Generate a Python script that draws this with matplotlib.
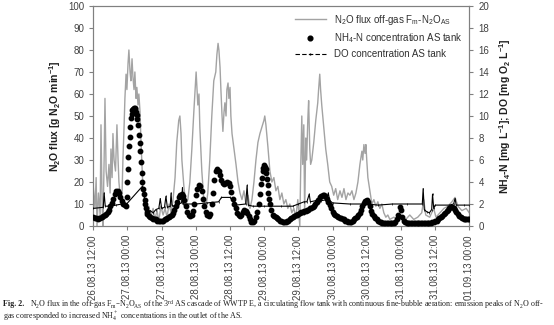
import matplotlib
matplotlib.use("Agg")
import matplotlib.pyplot as plt
from matplotlib.lines import Line2D

# ---------------- data (hours since 26.08.13 12:00) ----------------
flux_t = [0.0, 0.6, 1.0, 1.3, 1.8, 2.4, 2.7, 3.1, 3.4, 3.8, 4.1, 4.5, 5.0, 5.5, 5.9, 6.2, 6.6, 6.9, 7.3, 7.8,
          8.3, 8.7, 9.0, 9.5, 10.1, 10.4, 10.8, 11.1, 11.5, 11.8, 12.2, 12.5, 12.9, 13.2, 13.6, 13.9, 14.3,
          14.6, 15.0, 15.3, 15.7, 16.0, 16.4, 16.7, 17.1, 17.4, 18.1, 18.8, 19.5, 20.2, 21.0, 21.6, 22.4,
          23.0, 23.7, 24.5, 25.2, 25.9, 26.6, 27.3, 28.0, 28.7, 29.3, 30.0, 30.4, 30.8, 31.1, 31.8, 32.5,
          33.2, 33.9, 34.6, 35.3, 36.1, 36.4, 36.7, 37.1, 37.4, 38.1, 38.8, 39.5, 40.2, 40.9, 41.6, 42.3,
          43.0, 43.4, 43.8, 44.1, 44.5, 44.8, 45.2, 45.5, 45.9, 46.2, 46.6, 46.9, 47.3, 47.6, 48.0, 48.3,
          48.7, 49.4, 50.1, 50.8, 51.5, 52.2, 52.9, 53.6, 54.3, 55.0, 55.7, 56.4, 57.1, 57.8, 58.5, 59.2,
          59.9, 60.2, 60.6, 61.3, 62.0, 62.7, 63.4, 64.1, 64.8, 65.5, 66.2, 66.9, 67.6, 68.3, 69.0, 69.7,
          70.4, 71.1, 71.8, 72.5, 72.8, 73.2, 73.5, 73.9, 74.2, 74.6, 74.9, 75.3, 75.6, 76.0, 76.3, 76.7,
          77.4, 78.1, 78.8, 79.1, 79.5, 79.8, 80.2, 80.9, 81.6, 82.3, 83.0, 83.7, 84.4, 85.1, 85.8, 86.6,
          87.3, 88.0, 88.7, 89.4, 90.1, 90.8, 91.5, 92.2, 92.9, 93.6, 94.3, 94.6, 95.0, 95.4, 95.7, 96.0,
          96.4, 97.1, 97.8, 98.5, 99.2, 99.9, 100.6, 101.3, 102.0, 102.7, 103.4, 104.1, 105.5, 106.9,
          108.3, 109.7, 111.1, 112.5, 113.9, 115.3, 116.0, 116.7, 118.1, 119.5, 120.3, 121.7, 123.1,
          124.5, 125.9, 127.0, 128.0, 129.4, 130.9, 132.0]
flux_v = [18, 8, 22, 0, 15, 5, 46, 10, 0, 30, 58, 25, 18, 28, 15, 35, 22, 42, 30, 25,
          46, 30, 20, 13, 15, 30, 45, 58, 69, 62, 74, 80, 70, 66, 76, 68, 62,
          70, 58, 63, 55, 60, 52, 40, 28, 18, 10, 6, 9, 4, 8, 3, 7,
          2, 9, 5, 8, 4, 10, 6, 12, 22, 38, 48, 50, 42, 30, 18, 10,
          12, 20, 35, 52, 70, 62, 55, 60, 45, 25, 12, 8, 15, 30, 50, 66,
          70, 78, 83, 80, 72, 62, 50, 43, 52, 56, 50, 62, 65, 58, 63, 50,
          42, 35, 28, 20, 15, 12, 16, 10, 14, 8, 12, 20, 30, 38, 42, 45,
          48, 50, 46, 36, 25, 20, 22, 16, 18, 12, 15, 10, 12, 8, 10, 6,
          8, 4, 12, 0, 25, 50, 28, 46, 5, 40, 30, 48, 57, 35, 28, 30,
          38, 48, 56, 62, 69, 62, 55, 45, 35, 28, 20, 18, 14, 17, 12, 16,
          13, 17, 12, 15, 14, 16, 12, 15, 20, 28, 34, 30, 37, 33, 37, 30,
          22, 16, 10, 12, 9, 11, 8, 10, 6, 4, 5, 3, 4, 3,
          4, 3, 5, 3, 4, 6, 12, 5, 4, 8, 4, 6, 8,
          9, 11, 13, 9, 7, 8, 6]

nh4_t = [0, 0.5, 1, 1.5, 2, 2.5, 3, 3.5, 4, 4.5, 5, 5.5, 6, 6.5, 7, 7.5, 8, 8.5, 9, 9.5, 10, 10.5, 11, 11.5,
         11.75, 12.0, 12.1, 12.25, 12.5, 12.75, 13.0, 13.25, 13.5, 13.75, 14.0, 14.25, 14.5, 14.75, 15.0,
         15.25, 15.5, 15.75, 16.0, 16.25, 16.5, 16.75, 17.0, 17.25, 17.5, 17.75, 18.0, 18.25, 18.5, 18.75,
         19.0, 19.5,
         20, 20.5, 21, 21.5, 22, 22.5, 23, 23.5, 24, 24.5, 25, 25.5, 26, 26.5, 27, 27.5, 28, 28.5, 29, 29.5,
         30, 30.5, 31, 31.5, 32, 32.5, 33, 33.5, 34, 34.5, 35, 35.5, 36, 36.5, 37, 37.5, 38, 38.5, 39, 39.5,
         40, 40.5, 41, 41.5, 42, 42.5, 43, 43.5, 44, 44.5, 45, 45.5, 46, 46.5, 47, 47.5, 48, 48.5, 49, 49.5,
         50, 50.5, 51, 51.5, 52, 52.5, 53, 53.5, 54, 54.5, 55, 55.5, 56, 56.5, 57, 57.5, 58, 58.5, 59,
         59.25, 59.5, 59.75, 60, 60.25, 60.5, 60.75, 61, 61.25, 61.5, 61.75, 62, 62.5, 63, 63.5, 64, 64.5,
         65, 65.5, 66, 66.5, 67, 67.5, 68, 68.5, 69, 69.5, 70, 70.5, 71, 71.5, 72, 72.5, 73, 73.5, 74, 74.5,
         75, 75.5, 76, 76.5, 77, 77.5, 78, 78.5, 79, 79.5, 80, 80.5, 81, 81.5, 82, 82.5, 83, 83.5, 84, 84.5,
         85, 85.5, 86, 86.5, 87, 87.5, 88, 88.5, 89, 89.5, 90, 90.5, 91, 91.5, 92, 92.5, 93, 93.5, 94, 94.5,
         95, 95.5, 96, 96.5, 97, 97.5, 98, 98.5, 99, 99.5, 100, 100.5, 101, 101.5, 102, 102.5, 103, 103.5,
         104, 104.5, 105, 105.5, 106, 106.5, 107, 107.5, 108, 108.5, 109, 109.5, 110, 110.5, 111, 111.5,
         112, 112.5, 113, 113.5, 114, 114.5, 115, 115.5, 116, 116.5, 117, 117.5, 118, 118.5, 119, 119.5,
         120, 120.5, 121, 121.5, 122, 122.5, 123, 123.5, 124, 124.5, 125, 125.5, 126, 126.5, 127, 127.5,
         128, 128.5, 129, 129.5, 130, 130.5, 131, 131.5, 132]
nh4_v = [0.8, 0.7, 0.7, 0.6, 0.7, 0.7, 0.8, 0.9, 1.0, 1.1, 1.3, 1.5, 1.8, 2.1, 2.5, 2.9, 3.2, 3.2, 3.0, 2.6,
         2.3, 2.0, 1.9, 1.8,
         2.6, 4.0, 5.2, 6.3, 7.3, 8.1, 9.0, 9.8, 10.2, 10.5, 10.6, 10.7, 10.7, 10.6, 10.4,
         10.1, 9.7, 9.2, 8.3, 7.5, 6.8, 5.8, 4.8, 4.0, 3.4, 2.9, 2.4, 2.0, 1.6, 1.3,
         1.1, 0.9,
         0.8, 0.7, 0.6, 0.6, 0.6, 0.5, 0.5, 0.5, 0.5, 0.5, 0.6, 0.6, 0.7, 0.8, 0.9, 1.0, 1.2, 1.5, 1.8, 2.2,
         2.6, 2.8, 2.9, 2.7, 2.4, 1.8, 1.3, 1.0, 0.9, 1.0, 1.4, 2.0, 2.8, 3.4, 3.7, 3.6, 3.2, 2.5, 1.8, 1.3,
         1.0, 0.9, 1.1, 2.0, 3.0, 4.2, 5.0, 5.2, 5.0, 4.6, 4.2, 3.9, 3.8, 3.9, 4.0, 3.9, 3.6, 3.1, 2.5, 2.0,
         1.6, 1.2, 1.0, 0.9, 1.0, 1.3, 1.5, 1.4, 1.2, 0.9, 0.6, 0.4, 0.4, 0.5, 0.8, 1.3, 2.0, 2.9, 3.8,
         4.4, 5.0, 5.3, 5.5, 5.4, 5.2, 4.8, 4.3, 3.7, 3.0, 2.5, 2.0, 1.5, 1.0, 0.9, 0.8, 0.7,
         0.6, 0.5, 0.5, 0.4, 0.4, 0.4, 0.5, 0.5, 0.6, 0.7, 0.8, 0.9, 1.0, 1.0, 1.1, 1.2, 1.3, 1.3, 1.4, 1.4,
         1.5, 1.5, 1.6, 1.6, 1.7, 1.8, 2.0, 2.2, 2.4, 2.6, 2.7, 2.8, 2.8, 2.7, 2.5, 2.2, 1.9, 1.6, 1.3, 1.1,
         1.0, 0.9, 0.8, 0.7, 0.7, 0.6, 0.6, 0.5, 0.5, 0.4, 0.4, 0.4, 0.5, 0.6, 0.7, 0.8, 1.0, 1.2, 1.5, 1.8,
         2.1, 2.3, 2.4, 2.2, 1.8, 1.4, 1.1, 0.9, 0.7, 0.6, 0.5, 0.4, 0.4, 0.3, 0.3, 0.3, 0.3, 0.3,
         0.3, 0.3, 0.3, 0.3, 0.4, 0.6, 1.0, 1.7, 1.5, 0.8, 0.5, 0.4, 0.3, 0.3, 0.3, 0.3,
         0.3, 0.3, 0.3, 0.3, 0.3, 0.3, 0.3, 0.3, 0.3, 0.3, 0.3, 0.3, 0.3, 0.3, 0.4, 0.4,
         0.5, 0.5, 0.6, 0.7, 0.8, 0.9, 1.1, 1.2, 1.4, 1.5, 1.6, 1.7, 1.7, 1.6, 1.5, 1.3,
         1.1, 0.9, 0.8, 0.7, 0.6, 0.6, 0.6, 0.6, 0.6]

do_t = [0, 3.5, 3.8, 4.2, 6, 8, 10, 11, 17.2, 17.8, 18.3, 19, 20, 21, 22, 23, 23.5, 24, 25, 25.5, 26, 27,
        27.3, 27.6, 28, 29, 30, 31, 31.3, 31.6, 32, 36, 40, 44, 45, 48, 49, 50, 53.5, 54, 54.4, 56, 60,
        66, 70, 72, 74, 75, 75.8, 76.2, 78, 80, 82, 82.5, 83, 84, 90, 95.5, 95.8, 96.2, 100, 105, 110,
        115.5, 115.8, 116.2, 117, 118, 118.8, 119.1, 119.5, 120, 125, 126.5, 127, 127.4, 130, 132]
do_v = [1.6, 1.7, 3.0, 1.8, 1.8, 1.9, 2.0, 1.8, 3.6, 3.3, 1.5, 1.3, 1.4, 1.2, 1.5, 1.6, 2.5, 1.6, 1.7, 2.7,
        1.7, 1.8, 3.0, 1.9, 1.8, 1.9, 2.0, 2.1, 3.5, 2.0, 2.0, 2.0, 2.1, 2.2, 2.6, 2.6, 2.3, 1.9, 2.0,
        3.7, 1.9, 1.8, 1.8, 1.8, 1.8, 2.0, 2.2, 2.2, 2.9, 2.2, 2.3, 2.3, 2.4, 3.0, 2.3, 2.1, 2.0, 2.0,
        2.5, 2.0, 1.9, 2.0, 2.0, 2.0, 3.4, 1.5, 1.3, 1.2, 1.5, 2.9, 1.6, 1.9, 1.9, 2.0, 2.5, 1.9, 1.9,
        1.9]

tick_hours = [0, 12, 24, 36, 48, 60, 72, 84, 96, 108, 120, 132]
tick_labels = ["26.08.13 12:00", "27.08.13 00:00", "27.08.13 12:00", "28.08.13 00:00",
               "28.08.13 12:00", "29.08.13 00:00", "29.08.13 12:00", "30.08.13 00:00",
               "30.08.13 12:00", "31.08.13 00:00", "31.08.13 12:00", "01.09.13 00:00"]

# ---------------- figure ----------------
plt.rcParams['font.family'] = ['Liberation Sans', 'DejaVu Sans']
plt.rcParams['mathtext.default'] = 'regular'
TXT = '#404040'

fig = plt.figure(figsize=(5.54, 3.25), dpi=100)
ax = fig.add_axes([0.1684, 0.3046, 0.6787, 0.677])
ax2 = ax.twinx()

ax.plot(flux_t, flux_v, color='#a3a3a3', lw=1.0, zorder=2)
ax2.plot(do_t, do_v, color='black', lw=0.8, marker='|', ms=2, mew=0.5, zorder=3)
ax2.plot(nh4_t, nh4_v, linestyle='none', marker='o', ms=3.2, color='black', zorder=4)

ax.set_xlim(0, 132)
ax.set_ylim(0, 100)
ax2.set_ylim(0, 20)
ax.set_yticks(range(0, 101, 10))
ax2.set_yticks(range(0, 21, 2))
ax.set_xticks(tick_hours)
ax.set_xticklabels(tick_labels, rotation=90)

for a in (ax, ax2):
    for s in a.spines.values():
        s.set_color('#808080')
        s.set_linewidth(0.8)
    a.tick_params(colors='#808080', labelcolor=TXT, labelsize=7, length=3, width=0.8, direction='out')
ax.set_facecolor('none')

ax.set_ylabel(r'N$_2$O flux [g N$_2$O min$^{-1}$]', fontsize=7.5, fontweight='bold', color='#202020')
ax2.set_ylabel(r'NH$_4$-N [mg L$^{-1}$]; DO [mg O$_2$ L$^{-1}$]', fontsize=7.5, fontweight='bold',
               color='#202020', rotation=90, labelpad=6)

handles = [Line2D([], [], color='#a3a3a3', lw=1.0),
           Line2D([], [], color='black', marker='o', ms=3.4, ls='none'),
           Line2D([], [], color='black', lw=0.8, ls=(0, (4, 2)), marker='|', ms=2, markevery=[1])]
labels = [r'N$_2$O flux off-gas F$_m$-N$_2$O$_{AS}$', r'NH$_4$-N concentration AS tank',
          'DO concentration AS tank']
leg = ax.legend(handles, labels, loc='upper right', bbox_to_anchor=(1.0, 1.0), frameon=False,
                fontsize=7, handlelength=3.2, labelspacing=0.45, borderaxespad=0.3)
for t in leg.get_texts():
    t.set_color('#303030')

cap1 = (r'N$_2$O flux in the off-gas F$_m$–N$_2$O$_{AS}$ of the 3$^{rd}$ AS cascade of WWTP E, '
        r'a circulating flow tank with continuous fine-bubble aeration: emission peaks of N$_2$O off-')
cap2 = r'gas corresponded to increased NH$_4^+$ concentrations in the outlet of the AS.'
fig.text(0.005, 0.064, 'Fig. 2.', fontsize=5.8, family='Liberation Serif', fontweight='bold',
         color='#202020', ha='left', va='center')
fig.text(0.055, 0.064, cap1, fontsize=5.8, family='Liberation Serif', color='#202020', ha='left', va='center')
fig.text(0.005, 0.027, cap2, fontsize=5.8, family='Liberation Serif', color='#202020', ha='left', va='center')

fig.savefig('out.png', dpi=100)
